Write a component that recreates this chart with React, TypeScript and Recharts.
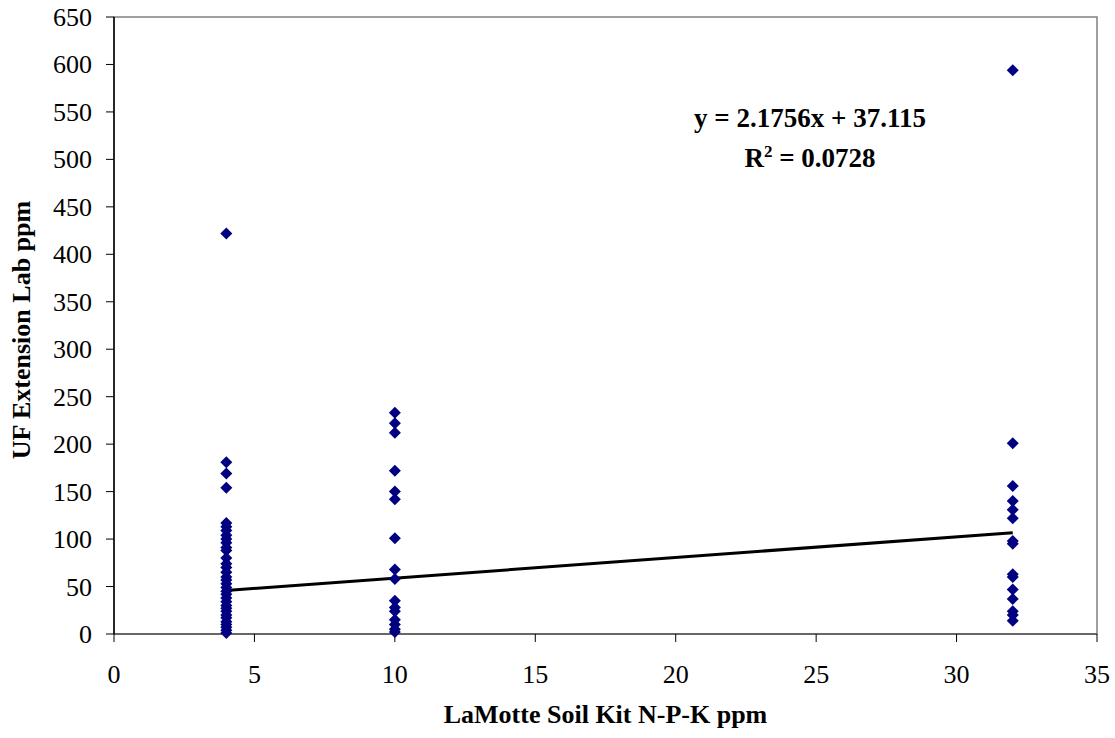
import {
  ScatterChart,
  Scatter,
  XAxis,
  YAxis,
  ReferenceLine,
  ReferenceArea,
} from 'recharts';

// LaMotte kit readings (x) vs UF lab results (y)
const kitLevels = [4, 10, 32];

const labAt4 = [
  422, 181, 169, 154, 117, 113, 109, 104, 100, 96, 91, 88, 80, 74, 70, 65, 60, 57, 53,
  49, 45, 42, 38, 34, 30, 27, 24, 20, 17, 13, 10, 7, 4, 1,
];
const labAt10 = [233, 222, 212, 172, 150, 142, 101, 68, 58, 35, 28, 24, 15, 10, 5, 2];
const labAt32 = [594, 201, 156, 140, 131, 122, 98, 95, 63, 60, 47, 37, 24, 20, 14];

const slope = 2.1756;
const intercept = 37.115;
const rSquared = 0.0728;

const xTicks = [0, 5, 10, 15, 20, 25, 30, 35];
const yTicks = [0, 50, 100, 150, 200, 250, 300, 350, 400, 450, 500, 550, 600, 650];

const points = [
  ...labAt4.map((y) => ({ x: kitLevels[0], y })),
  ...labAt10.map((y) => ({ x: kitLevels[1], y })),
  ...labAt32.map((y) => ({ x: kitLevels[2], y })),
];

const xMin = Math.min(...kitLevels);
const xMax = Math.max(...kitLevels);

const font = "'Liberation Serif', 'Times New Roman', serif";

const Diamond = (props: any) => {
  const { cx, cy } = props;
  const r = 6;
  return (
    <path
      d={`M${cx},${cy - r}L${cx + r},${cy}L${cx},${cy + r}L${cx - r},${cy}Z`}
      fill="#000080"
    />
  );
};

const XTick = ({ x, y, payload }: any) => (
  <text x={x} y={y + 39} textAnchor="middle" fontFamily={font} fontSize={26} fill="#000">
    {payload.value}
  </text>
);

const YTick = ({ x, y, payload }: any) => (
  <text x={x - 12} y={y + 9} textAnchor="end" fontFamily={font} fontSize={26} fill="#000">
    {payload.value}
  </text>
);

export default function App() {
  return (
    <div
      style={{
        position: 'absolute',
        left: 0,
        top: 0,
        width: 1115,
        height: 738,
        background: '#fff',
        fontFamily: font,
      }}
    >
      <ScatterChart
        width={1115}
        height={738}
        margin={{ top: 17, right: 18, bottom: 54, left: 0 }}
      >
        <ReferenceArea
          x1={0}
          x2={35}
          y1={0}
          y2={650}
          fill="none"
          stroke="#808080"
          strokeWidth={1.5}
        />
        <XAxis
          type="number"
          dataKey="x"
          domain={[0, 35]}
          ticks={xTicks}
          height={50}
          stroke="#000"
          tickSize={8}
          axisLine={{ stroke: '#555', strokeWidth: 1.5 }}
          tick={<XTick />}
        />
        <YAxis
          type="number"
          dataKey="y"
          domain={[0, 650]}
          ticks={yTicks}
          width={114}
          stroke="#000"
          tickSize={8}
          axisLine={{ stroke: '#000', strokeWidth: 1.5 }}
          tick={<YTick />}
        />
        <ReferenceLine
          segment={[
            { x: xMin, y: slope * xMin + intercept },
            { x: xMax, y: slope * xMax + intercept },
          ]}
          stroke="#000"
          strokeWidth={3}
        />
        <Scatter data={points} shape={Diamond} isAnimationActive={false} />
      </ScatterChart>

      <div
        style={{
          position: 'absolute',
          left: 600,
          top: 98,
          width: 420,
          textAlign: 'center',
          fontWeight: 'bold',
          fontSize: 27,
          lineHeight: '40px',
        }}
      >
        <div>
          y = {slope}x + {intercept}
        </div>
        <div>
          R<sup style={{ fontSize: 17, verticalAlign: 10, lineHeight: 0 }}>2</sup> = {rSquared}
        </div>
      </div>

      <div
        style={{
          position: 'absolute',
          left: 114,
          width: 983,
          top: 700,
          textAlign: 'center',
          fontWeight: 'bold',
          fontSize: 26,
        }}
      >
        LaMotte Soil Kit N-P-K ppm
      </div>
      <div
        style={{
          position: 'absolute',
          left: 22,
          top: 330,
          transform: 'translate(-50%, -50%) rotate(-90deg)',
          whiteSpace: 'nowrap',
          fontWeight: 'bold',
          fontSize: 26,
        }}
      >
        UF Extension Lab ppm
      </div>
    </div>
  );
}
